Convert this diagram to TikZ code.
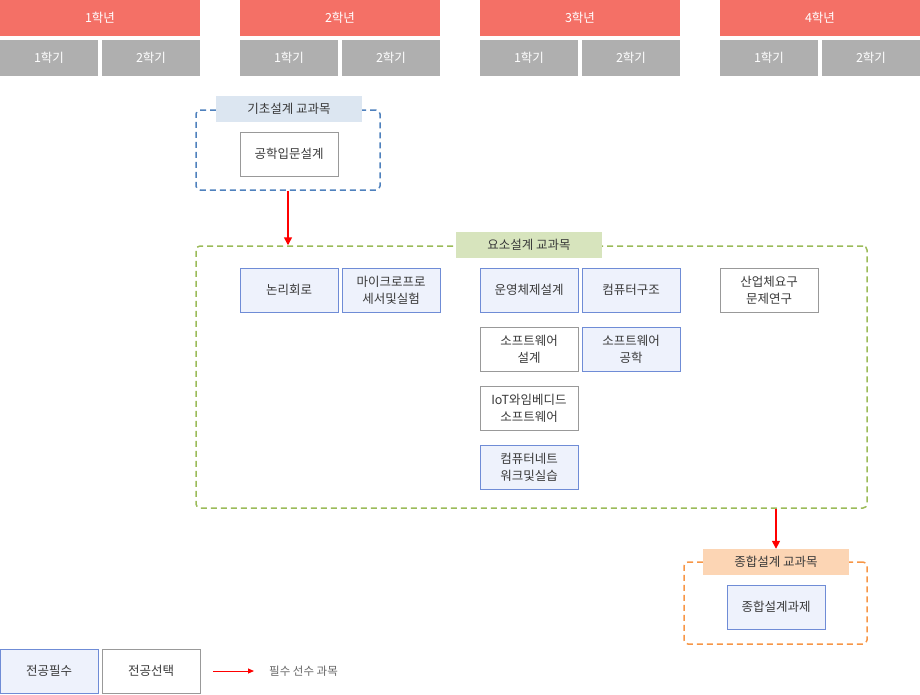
\documentclass[tikz,border=0pt]{standalone}
\usepackage{fontspec}
\setmainfont{Noto Sans CJK KR}
\usetikzlibrary{arrows.meta, positioning}
\definecolor{YearRed}{HTML}{F47066}
\definecolor{TermGray}{HTML}{AFAFAF}
\definecolor{ReqBlue}{HTML}{6F8CD6}
\definecolor{ReqFill}{HTML}{EEF2FC}
\definecolor{OptGray}{HTML}{999999}
\definecolor{TextGray}{HTML}{3A3A3A}
\definecolor{BasicLine}{HTML}{4F81BD}
\definecolor{BasicFill}{HTML}{DCE6F1}
\definecolor{ElemLine}{HTML}{9BBB59}
\definecolor{ElemFill}{HTML}{D7E4BD}
\definecolor{CompLine}{HTML}{F79646}
\definecolor{CompFill}{HTML}{FCD5B4}
\tikzset{
  year/.style={rectangle, fill=YearRed, text=white, minimum width=200pt, minimum height=36pt, font=\fontsize{12.5}{15}\selectfont},
  term/.style={rectangle, fill=TermGray, text=white, minimum width=98pt, minimum height=36pt, font=\fontsize{12.5}{15}\selectfont},
  course/.style={rectangle, text=TextGray, minimum width=98pt, minimum height=44pt, align=center, inner sep=0pt, line width=1pt, font=\fontsize{12.5}{17}\selectfont},
  required/.style={course, draw=ReqBlue, fill=ReqFill},
  elective/.style={course, draw=OptGray, fill=white},
  group/.style={rectangle, rounded corners=4pt, dashed, dash pattern=on 6pt off 4pt, line width=1.5pt},
  grouplabel/.style={rectangle, text=TextGray, minimum width=146pt, minimum height=26pt, inner sep=0pt, font=\fontsize{12.5}{15}\selectfont},
  arrow/.style={-{Triangle[length=8pt, width=8pt]}, draw=red, fill=red, line width=1.5pt}
}
\begin{document}
\begin{tikzpicture}[x=1pt, y=-1pt]
  \useasboundingbox (0,0) rectangle (920,694);
  % header
  \foreach \yr/\cx in {1/100, 2/340, 3/580, 4/820} {
    \node (year\yr) [year] at (\cx,18) {\yr{}학년};
    \node (term\yr a) [term] at (\cx-51,58) {1학기};
    \node (term\yr b) [term] at (\cx+51,58) {2학기};
  }

  % basic design
  \node (basic) [group, draw=BasicLine, minimum width=184pt, minimum height=80pt] at (288,150) {};
  \node (basiclbl) [grouplabel, fill=BasicFill] at (289,109) {기초설계 교과목};
  \node (intro) [elective] at (289,154) {공학입문설계};

  % element design
  \node (elem) [group, draw=ElemLine, minimum width=671pt, minimum height=262pt] at (531.5,377) {};
  \node (elemlbl) [grouplabel, fill=ElemFill] at (529,245) {요소설계 교과목};
  \node (logic) [required] at (289,290) {논리회로};
  \node (micro) [required, right=3pt of logic] {마이크로프로\\세서및실험};
  \node (os) [required] at (529,290) {운영체제설계};
  \node (arch) [required, right=3pt of os] {컴퓨터구조};
  \node (industry) [elective] at (769,290) {산업체요구\\문제연구};
  \node (swdesign) [elective, below=14pt of os] {소프트웨어\\설계};
  \node (sweng) [required, below=14pt of arch] {소프트웨어\\공학};
  \node (iot) [elective, below=14pt of swdesign] {IoT와임베디드\\소프트웨어};
  \node (network) [required, below=14pt of iot] {컴퓨터네트\\워크및실습};

  % capstone design
  \node (comp) [group, draw=CompLine, minimum width=183pt, minimum height=82pt] at (775.5,603) {};
  \node (complbl) [grouplabel, fill=CompFill] at (776,562) {종합설계 교과목};
  \node (capstone) [required] at (776,607) {종합설계과제};

  \draw [arrow] (basic.south) -- (basic.south |- elem.north);
  \draw [arrow] (complbl.north |- elem.south) -- (complbl.north);

  % legend
  \node (legreq) [required] at (49,671) {전공필수};
  \node (legopt) [elective, right=3pt of legreq] {전공선택};
  \coordinate (legfrom) at (213,671);
  \coordinate (legto) at (254,671);
  \draw [-{Triangle[length=6pt, width=5pt]}, draw=red, fill=red, line width=1pt] (legfrom) -- (legto);
  \node (legtext) [anchor=west, text=gray!80!black, font=\fontsize{11.5}{13}\selectfont, inner sep=0pt] at (269,671) {필수 선수 과목};
\end{tikzpicture}
\end{document}
